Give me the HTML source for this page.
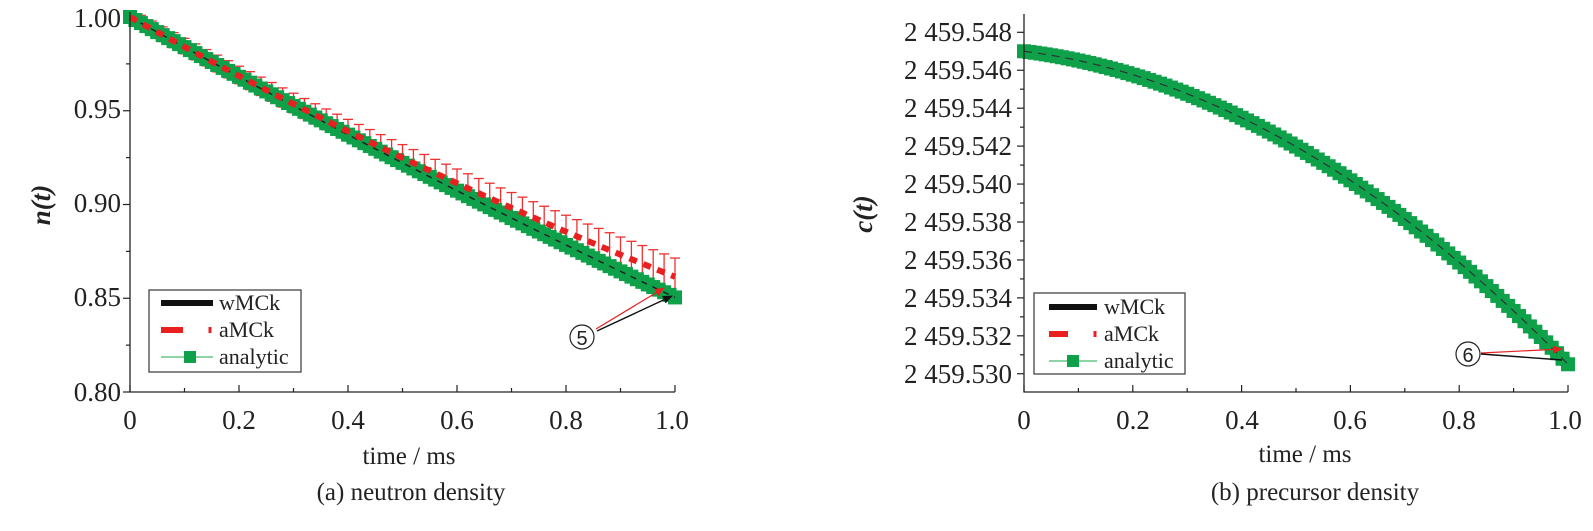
<!DOCTYPE html>
<html><head><meta charset="utf-8"><style>
html,body{margin:0;padding:0;background:#fff;}
svg{display:block;font-family:"Liberation Serif",serif;}
</style></head><body>
<svg id="s" width="1593" height="531" viewBox="0 0 1593 531" xmlns="http://www.w3.org/2000/svg">
<defs>
<marker id="ak" markerWidth="10" markerHeight="8" refX="9" refY="4" orient="auto" markerUnits="userSpaceOnUse"><path d="M0,0 L10,4 L0,8 z" fill="#111"/></marker>
<marker id="ar" markerWidth="10" markerHeight="8" refX="9" refY="4" orient="auto" markerUnits="userSpaceOnUse"><path d="M0,0 L10,4 L0,8 z" fill="#e82020"/></marker>
</defs>
<g id="g"></g>
<g stroke="#222" stroke-width="1.3" fill="none">
<path d="M130,12 V392 H675"/>
<path d="M1024,14 V392 H1568"/>
</g>
<g font-size="27" fill="#222" text-anchor="end">
<text x="121" y="27">1.00</text><text x="121" y="118">0.95</text><text x="121" y="212">0.90</text><text x="121" y="306">0.85</text><text x="121" y="401">0.80</text>
</g>
<g font-size="27" fill="#222" text-anchor="middle">
<text x="130" y="429">0</text><text x="239" y="429">0.2</text><text x="348" y="429">0.4</text><text x="457" y="429">0.6</text><text x="566" y="429">0.8</text><text x="672" y="429">1.0</text>
<text x="1024" y="429">0</text><text x="1133" y="429">0.2</text><text x="1242" y="429">0.4</text><text x="1350" y="429">0.6</text><text x="1459" y="429">0.8</text><text x="1565" y="429">1.0</text>
<text x="409" y="464" font-size="25">time / ms</text>
<text x="1305" y="462" font-size="25">time / ms</text>
<text x="411" y="500" font-size="25">(a) neutron density</text>
<text x="1315" y="500" font-size="25">(b) precursor density</text>
</g>
<g font-size="27" fill="#222" text-anchor="end">
<text x="1012" y="41">2 459.548</text><text x="1012" y="79">2 459.546</text><text x="1012" y="117">2 459.544</text><text x="1012" y="155">2 459.542</text><text x="1012" y="193">2 459.540</text><text x="1012" y="231">2 459.538</text><text x="1012" y="269">2 459.536</text><text x="1012" y="307">2 459.534</text><text x="1012" y="345">2 459.532</text><text x="1012" y="383">2 459.530</text>
</g>
<text transform="translate(50,205) rotate(-90)" text-anchor="middle" font-size="27" font-weight="bold" font-style="italic" fill="#222">n(t)</text>
<text transform="translate(872,214) rotate(-90)" text-anchor="middle" font-size="27" font-weight="bold" font-style="italic" fill="#222">c(t)</text>
<g>
<rect x="149" y="290" width="152" height="82" fill="#fff" stroke="#444" stroke-width="1.3"/>
<line x1="161" y1="303" x2="213" y2="303" stroke="#111" stroke-width="6"/>
<line x1="161" y1="330" x2="183" y2="330" stroke="#e82020" stroke-width="6"/>
<line x1="210" y1="327" x2="210" y2="333" stroke="#e82020" stroke-width="3"/>
<line x1="161" y1="357" x2="213" y2="357" stroke="#1aa84a" stroke-width="1"/>
<rect x="184" y="351" width="12" height="12" fill="#0ea14a"/>
<g font-size="22" fill="#222"><text x="219" y="310">wMCk</text><text x="219" y="337">aMCk</text><text x="219" y="364">analytic</text></g>
<rect x="1034" y="293" width="151" height="81" fill="#fff" stroke="#444" stroke-width="1.3"/>
<line x1="1049" y1="307" x2="1097" y2="307" stroke="#111" stroke-width="6"/>
<line x1="1049" y1="334" x2="1068" y2="334" stroke="#e82020" stroke-width="6"/>
<line x1="1095" y1="331" x2="1095" y2="337" stroke="#e82020" stroke-width="3"/>
<line x1="1049" y1="361" x2="1097" y2="361" stroke="#1aa84a" stroke-width="1"/>
<rect x="1067" y="355" width="12" height="12" fill="#0ea14a"/>
<g font-size="22" fill="#222"><text x="1104" y="314">wMCk</text><text x="1104" y="341">aMCk</text><text x="1104" y="368">analytic</text></g>
</g>
<circle cx="582" cy="337" r="12" fill="none" stroke="#222" stroke-width="1.2"/>
<text x="582" y="345" text-anchor="middle" font-size="20" font-family="Liberation Sans,sans-serif" fill="#222">5</text>
<line x1="596" y1="329" x2="664" y2="288" stroke="#e82020" stroke-width="1.2" marker-end="url(#ar)"/>
<line x1="597" y1="331" x2="672" y2="296" stroke="#111" stroke-width="1.4" marker-end="url(#ak)"/>
<circle cx="1468" cy="354" r="12" fill="none" stroke="#222" stroke-width="1.2"/>
<text x="1468" y="362" text-anchor="middle" font-size="20" font-family="Liberation Sans,sans-serif" fill="#222">6</text>
<line x1="1481" y1="353" x2="1562" y2="349" stroke="#e82020" stroke-width="1.2" marker-end="url(#ar)"/>
<line x1="1481" y1="354" x2="1562" y2="360" stroke="#111" stroke-width="1.4"/>
</svg>
<script>
var g=document.getElementById("g"),h="";
for(var i=0;i<=8;i++){var y=17+i*375/8;h+='<line x1="'+(130-(i%2?4:7))+'" y1="'+y+'" x2="130" y2="'+y+'" stroke="#222" stroke-width="1.2"/>';}
for(var i=0;i<=10;i++){var x=130+i*54.5;h+='<line x1="'+x+'" y1="392" x2="'+x+'" y2="'+(392-(i%2?4:7))+'" stroke="#222" stroke-width="1.2"/>';}
for(var i=0;i<=20;i++){var y=32.3+i*18.97;if(y>392)break;h+='<line x1="'+(1024-(i%2?4:7))+'" y1="'+y+'" x2="1024" y2="'+y+'" stroke="#222" stroke-width="1.2"/>';}
for(var i=0;i<=10;i++){var x=1024+i*54.4;h+='<line x1="'+x+'" y1="392" x2="'+x+'" y2="'+(392-(i%2?4:7))+'" stroke="#222" stroke-width="1.2"/>';}
function LX(t){return 130+t*545;}function LY(v){return 17+(1-v)*1875;}
var N=100,ptsR=[],ptsG=[];
for(var i=0;i<=N;i++){var t=i/N;var a=Math.exp(-0.162*t);var r=a+0.011*t*t;ptsG.push(LX(t)+","+LY(a));ptsR.push(LX(t)+","+LY(r));}
for(var i=2;i<=N;i+=2){var t=i/N;var a=Math.exp(-0.162*t);var r=a+0.011*t*t;var e=0.004+0.006*t;var x=LX(t);
 var y1=LY(r+e),y2=LY(r-e*0.8);
 h+='<line x1="'+x+'" y1="'+y1+'" x2="'+x+'" y2="'+y2+'" stroke="#f03030" stroke-width="1.3"/>';
 h+='<line x1="'+(x-5)+'" y1="'+y1+'" x2="'+(x+5)+'" y2="'+y1+'" stroke="#f03030" stroke-width="1.3"/>';
 h+='<line x1="'+(x-5)+'" y1="'+y2+'" x2="'+(x+5)+'" y2="'+y2+'" stroke="#f03030" stroke-width="1.3"/>';}
h+='<polyline points="'+ptsG.join(" ")+'" fill="none" stroke="#0ea14a" stroke-width="14"/>';
for(var i=0;i<=N;i++){var p=ptsG[i].split(",");h+='<rect x="'+(p[0]-7)+'" y="'+(p[1]-7)+'" width="14" height="14" fill="#0ea14a"/>';}
h+='<polyline points="'+ptsG.join(" ")+'" fill="none" stroke="#222" stroke-width="1.5" stroke-dasharray="6 6"/>';
h+='<polyline points="'+ptsR.join(" ")+'" fill="none" stroke="#e82020" stroke-width="6" stroke-dasharray="8 7"/>';
function RX(t){return 1024+t*544;}function RY(d){return 32.3+(0.001+d)*18970;}
var gR=[],rR=[];
for(var i=0;i<=N;i++){var t=i/N;var d=0.0036*t+0.0129*t*t;gR.push(RX(t)+","+RY(d));rR.push((RX(t)+2)+","+(RY(d)-3));}
h+='<polyline points="'+rR.join(" ")+'" fill="none" stroke="#e82020" stroke-width="5" stroke-dasharray="5 9"/>';
h+='<polyline points="'+gR.join(" ")+'" fill="none" stroke="#0ea14a" stroke-width="13"/>';
for(var i=0;i<=N;i++){var p=gR[i].split(",");h+='<rect x="'+(p[0]-7)+'" y="'+(p[1]-7)+'" width="14" height="14" fill="#0ea14a"/>';}
h+='<polyline points="'+gR.join(" ")+'" fill="none" stroke="#333" stroke-width="1.2" stroke-dasharray="8 6"/>';
g.innerHTML=h;
</script>
</body></html>
